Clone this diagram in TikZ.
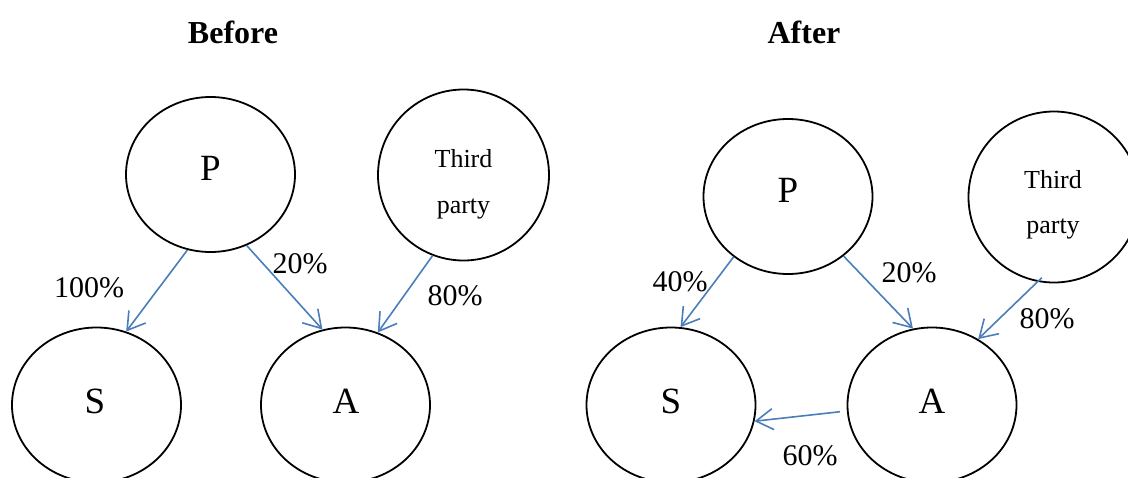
\documentclass[tikz,border=0pt]{standalone}
\usepackage{fontspec}
\setmainfont{Liberation Serif}
\usetikzlibrary{shapes.geometric,arrows.meta}
\definecolor{flow}{HTML}{4A7EBB}
\tikzset{
  party/.style={draw=black, line width=1.8pt, ellipse, inner sep=0pt,
    minimum width=169pt, minimum height=155pt},
  outside/.style={draw=black, line width=1.8pt, circle, inner sep=0pt,
    minimum size=171pt},
  share/.style={draw=flow, line width=1.6pt,
    -{Straight Barb[length=17pt,width=21pt,line width=1.6pt]}},
  pct/.style={font=\fontsize{30}{36}\selectfont, inner sep=0pt},
  letter/.style={font=\fontsize{37}{44}\selectfont, inner sep=0pt},
  heading/.style={font=\fontsize{32}{38}\selectfont\bfseries, inner sep=0pt},
  tpline/.style={font=\fontsize{26}{30}\selectfont, inner sep=0pt, anchor=base}
}
\begin{document}
\begin{tikzpicture}[x=1pt,y=-1pt]
\useasboundingbox (0,0) rectangle (1128,477);
\clip (0,0) rectangle (1128,477);

% headings
\node[heading] (hb) at (233,32) {Before};
\node[heading] (ha) at (804,32) {After};

% before: shapes
\node[party]   (bP) at (210.5,174.5) {};
\node[outside] (bT) at (463.5,175) {};
\node[party]   (bS) at (96.5,405) {};
\node[party]   (bA) at (345.5,405) {};

% after: shapes
\node[party]   (aP) at (788,196.5) {};
\node[outside] (aT) at (1054,197) {};
\node[party]   (aS) at (671,405) {};
\node[party]   (aA) at (932,405) {};

% names inside the shapes
\node[letter] (bPt) at (210.5,168) {P};
\node[tpline] (bT1) at (463.5,167) {Third};
\node[tpline] (bT2) at (463.5,213) {party};
\node[letter] (bSt) at (95,401) {S};
\node[letter] (bAt) at (346,401) {A};

\node[letter] (aPt) at (788,190) {P};
\node[tpline] (aT1) at (1053,188) {Third};
\node[tpline] (aT2) at (1053,233) {party};
\node[letter] (aSt) at (671,401) {S};
\node[letter] (aAt) at (932,401) {A};

% before: ownership links
\draw[share] (bP.-107) -- (bS.68);
\draw[share] (bP.-63) -- (bA.107);
\draw[share] (bT.-111) -- (bA.66);

% after: ownership links
\draw[share] (aP.-132) -- (aS.83);
\draw[share] (aP.-47) -- (aA.104);
\draw[share, shorten <=-6pt] (aT.-101) -- (aA.55);
\draw[share, shorten <=7pt] (aA.-176) -- (aS.-11);

% shares
\node[pct] (p1) at (89,288) {100\%};
\node[pct] (p2) at (300,264) {20\%};
\node[pct] (p3) at (455,296) {80\%};
\node[pct] (p4) at (680,282) {40\%};
\node[pct] (p5) at (909,273) {20\%};
\node[pct] (p6) at (1047,319) {80\%};
\node[pct] (p7) at (810,456) {60\%};
\end{tikzpicture}
\end{document}
